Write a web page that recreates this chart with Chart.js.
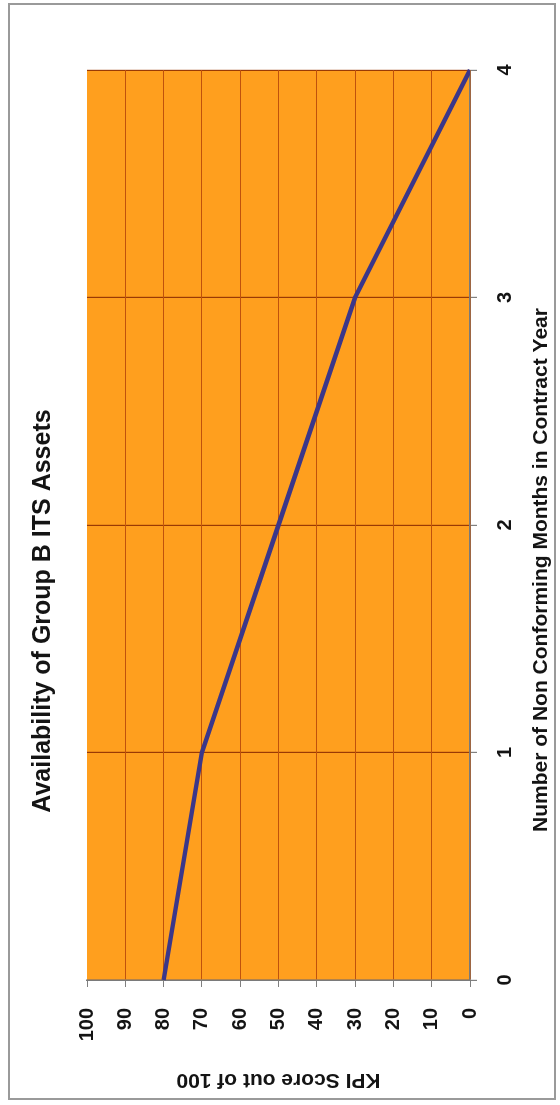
<!DOCTYPE html>
<html><head><meta charset="utf-8">
<script src="https://cdn.jsdelivr.net/npm/chart.js@4.4.0/dist/chart.umd.min.js"></script>
<style>
html,body{margin:0;padding:0;background:#fff;overflow:hidden;width:560px;height:1105px;}
#rot{position:absolute;left:0;top:0;width:1105px;height:560px;transform-origin:0 0;transform:translateY(1105px) rotate(-90deg);}
#frame{position:absolute;left:5px;top:8px;width:1097px;height:548px;border:2px solid #9a9a9a;box-sizing:border-box;}
canvas{position:absolute;left:0;top:0;}
</style></head><body>
<div id="rot"><div id="frame"></div><canvas id="c" width="1105" height="560"></canvas></div>
<script>
const months = ['0','1','2','3','4'];
const kpiScores = [80,70,50,30,0];
const chartTitle = 'Availability of Group B ITS Assets';
const xAxisTitle = 'Number of Non Conforming Months in Contract Year';
const yAxisTitle = 'KPI Score out of 100';

const FONT = '"Liberation Sans", Arial, Helvetica, sans-serif';

const plotBg = {
  id: 'plotBg',
  beforeDraw(chart) {
    const {ctx, chartArea: a} = chart;
    ctx.save();
    ctx.fillStyle = '#FF9F1E';
    ctx.fillRect(a.left, a.top, a.right - a.left, a.bottom - a.top);
    ctx.restore();
  }
};
const texts = {
  id: 'texts',
  afterDraw(chart) {
    const ctx = chart.ctx;
    ctx.save();
    ctx.fillStyle = '#141414';
    ctx.textAlign = 'center';
    ctx.textBaseline = 'middle';
    ctx.font = 'bold 25px ' + FONT;
    ctx.fillText(chartTitle, 494, 43);
    ctx.font = 'bold 21px ' + FONT;
    ctx.fillText(xAxisTitle, 535, 541);
    ctx.restore();
  }
};

new Chart(document.getElementById('c'), {
  type: 'line',
  data: {
    labels: months,
    datasets: [{
      data: kpiScores,
      borderColor: '#3B378A',
      borderWidth: 4.5,
      pointRadius: 0,
      tension: 0,
      fill: false
    }]
  },
  options: {
    responsive: false,
    animation: false,
    devicePixelRatio: 1,
    layout: {padding: {left: 5, top: 87, right: 70, bottom: 0}},
    plugins: {legend: {display: false}, title: {display: false}, tooltip: {enabled: false}},
    scales: {
      x: {
        type: 'category',
        offset: false,
        grid: {color: '#9A3A04', lineWidth: 1.2, tickLength: 7, tickColor: '#808080'},
        border: {display: true, color: '#7a7a7a', width: 1.5},
        ticks: {color: '#141414', font: {family: FONT, size: 20, weight: 'bold'}, padding: 16, maxRotation: 0},
        afterFit(s) { s.height = 90; }
      },
      y: {
        min: 0, max: 100,
        grid: {color: (c) => c.tick && c.tick.value === 100 ? 'rgba(0,0,0,0)' : '#C0520C', lineWidth: 1, tickLength: 7, tickColor: '#808080'},
        border: {display: true, color: '#7a7a7a', width: 1.5},
        ticks: {stepSize: 10, color: '#141414', font: {family: FONT, size: 20, weight: 'bold'}, padding: 21},
        title: {display: true, text: yAxisTitle, color: '#141414', font: {family: FONT, size: 21, weight: 'bold'}, padding: {top: 8, bottom: 0}},
        afterFit(s) { s.width = 120; }
      }
    }
  },
  plugins: [plotBg, texts]
});
</script>
</body></html>
